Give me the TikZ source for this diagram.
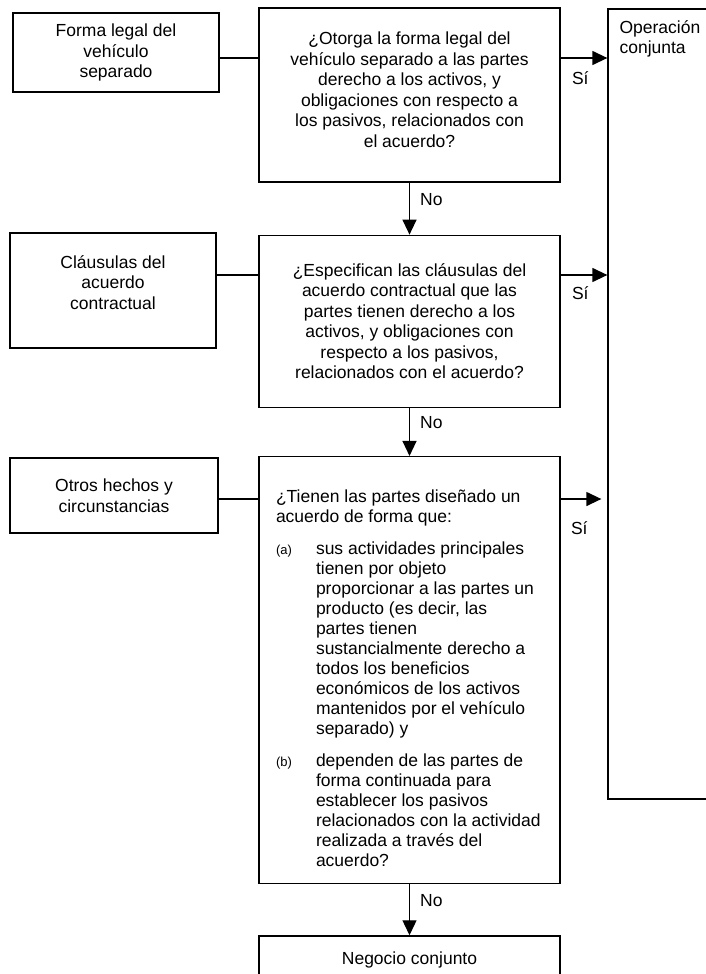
\documentclass[tikz,border=0pt]{standalone}
\usepackage{fontspec}
\setmainfont{Liberation Sans}
\usetikzlibrary{arrows.meta, positioning}

\newcommand{\enumtag}[1]{{\fontsize{13}{15}\selectfont #1}}

\begin{document}
\begin{tikzpicture}[x=1pt, y=-1pt,
    every node/.style={font=\fontsize{17.5}{20.5}\selectfont},
    box/.style={rectangle, draw=black, line width=1.3pt, align=center, inner sep=0pt},
    fact/.style={box, minimum width=206pt},
    query/.style={box, minimum width=301pt},
    tag/.style={inner sep=0pt},
    notag/.style={tag, anchor=west, xshift=10pt, yshift=9pt},
    link/.style={line width=1.3pt},
    arrow/.style={link, -{Triangle[length=15pt, width=14pt]}}
  ]
    \clip (0,0) rectangle (706,974);

    % question column
    \node[query, minimum height=174pt, text depth=11pt] (q1) at (409.5,95) {¿Otorga la forma legal del\\vehículo separado a las partes\\derecho a los activos, y\\obligaciones con respecto a\\los pasivos, relacionados con\\el acuerdo?};
    \node[query, minimum height=172pt, below=52pt of q1] (q2) {¿Especifican las cláusulas del\\acuerdo contractual que las\\partes tienen derecho a los\\activos, y obligaciones con\\respecto a los pasivos,\\relacionados con el acuerdo?};
    \node[query, minimum height=427pt, below=48pt of q2, font=\fontsize{17.5}{20}\selectfont] (q3) {%
      \begin{tabular}{@{}p{40pt}@{}p{227pt}@{}}
        \noalign{\vspace{20pt}}
        \multicolumn{2}{@{}l@{}}{¿Tienen las partes diseñado un}\\
        \multicolumn{2}{@{}l@{}}{acuerdo de forma que:}\\[12pt]
        \enumtag{(a)} & sus actividades principales\\
          & tienen por objeto\\
          & proporcionar a las partes un\\
          & producto (es decir, las\\
          & partes tienen\\
          & sustancialmente derecho a\\
          & todos los beneficios\\
          & económicos de los activos\\
          & mantenidos por el vehículo\\
          & separado) y\\[12pt]
        \enumtag{(b)} & dependen de las partes de\\
          & forma continuada para\\
          & establecer los pasivos\\
          & relacionados con la actividad\\
          & realizada a través del\\
          & acuerdo?
      \end{tabular}};
    \node[query, minimum height=48pt, below=51pt of q3] (neg) {Negocio conjunto};

    % factors on the left
    \node[fact, minimum height=79pt] (a1) at (116,52.5) {Forma legal del\\vehículo\\separado};
    \node[fact, minimum height=115pt, text depth=16pt] (a2) at (113,290.5) {Cláusulas del\\acuerdo\\contractual};
    \node[fact, minimum width=208pt, minimum height=75pt] (a3) at (114,495.5) {Otros hechos y\\circunstancias};

    % outcome on the right
    \node[box, minimum width=122pt, minimum height=790pt] (op) at (669,404) {};
    \node[tag, anchor=north west, align=left] (optxt) at ([xshift=12pt, yshift=-12pt]op.north west) {Operación\\conjunta};

    \coordinate (r1) at (0,58);
    \coordinate (r2) at (0,275);
    \coordinate (r3) at (0,499);

    \draw[link] (a1.east |- r1) -- (q1.west |- r1);
    \draw[link] (a2.east |- r2) -- (q2.west |- r2);
    \draw[link] (a3.east |- r3) -- (q3.west |- r3);

    \draw[arrow] (q1.east |- r1) -- node[tag, pos=0.42, below=13pt] (si1) {Sí} (op.west |- r1);
    \draw[arrow] (q2.east |- r2) -- node[tag, pos=0.42, below=11pt] (si2) {Sí} (op.west |- r2);
    \draw[arrow, shorten >=6pt] (q3.east |- r3) -- node[tag, pos=0.4, below=22pt] (si3) {Sí} (op.west |- r3);

    \draw[arrow] (q1) -- node[notag] (no1) {No} (q2);
    \draw[arrow] (q2) -- node[notag] (no2) {No} (q3);
    \draw[arrow] (q3) -- node[notag] (no3) {No} (neg);
\end{tikzpicture}
\end{document}
